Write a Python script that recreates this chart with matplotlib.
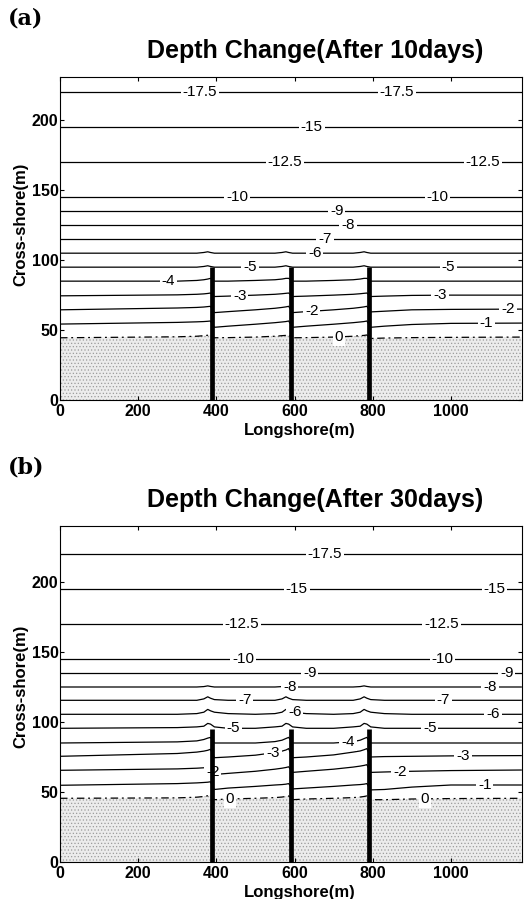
import numpy as np
import matplotlib
matplotlib.use('Agg')
import matplotlib.pyplot as plt

plt.rcParams['font.family'] = ['Liberation Sans', 'DejaVu Sans']
plt.rcParams['hatch.linewidth'] = 0.5

# contour levels (m) and longshore stations (m) where each contour was read
levels = [-17.5, -15, -12.5, -10, -9, -8, -7, -6, -5, -4, -3, -2, -1, 0]
xs = [0, 300, 350, 368, 378, 385, 395, 430, 500, 550, 568, 578, 585,
      595, 630, 700, 750, 768, 778, 785, 795, 830, 900, 1000, 1180]

# groins
groin_x = [390, 590, 790]
groin_len = 95

# cross-shore position (m) of every contour at the stations, after 10 days
ya = [
    [220] * 25,
    [195] * 25,
    [170] * 25,
    [145] * 25,
    [135] * 25,
    [125] * 25,
    [115] * 25,
    [105, 105, 105, 105.5, 106, 105.5, 105, 105, 105, 105, 105.5, 106, 105.5,
     105, 105, 105, 105, 105.5, 106, 105.5, 105, 105, 105, 105, 105],
    [95, 95, 95, 95.5, 96, 95.5, 95, 95, 95, 95, 95.5, 96, 95.5,
     95, 95, 95, 95, 95.5, 96, 95.5, 95, 95, 95, 95, 95],
    [85, 85, 85.5, 86, 86.5, 87, 85, 85, 85.5, 86, 86.5, 87, 87,
     85, 85, 85.5, 86, 86.5, 87, 87, 85, 85, 85, 85, 85],
    [74.5, 75.2, 75.6, 75.9, 76.2, 76.5, 74, 74.3, 75, 75.6, 76, 76.3, 76.5,
     74, 74.3, 75, 75.6, 76, 76.3, 76.5, 74, 74.3, 74.8, 75, 75],
    [64.5, 65.8, 66.2, 66.5, 66.8, 67, 62.5, 63.2, 64.5, 65.6, 66.2, 66.6, 67,
     62.5, 63.2, 64.5, 65.6, 66.2, 66.6, 67, 63, 63.5, 64.5, 64.8, 65],
    [54.3, 55.5, 55.9, 56.1, 56.3, 56.5, 52, 52.8, 54.2, 55.3, 55.8, 56.1, 56.5,
     52, 52.8, 54.2, 55.3, 55.8, 56.1, 56.5, 52, 52.8, 54, 54.8, 55],
    [44.5, 45.2, 45.6, 46, 46.3, 46.5, 44.5, 44.6, 45, 45.6, 46, 46.2, 46.5,
     44.5, 44.6, 45, 45.6, 46, 46.2, 46.5, 44, 44.3, 44.6, 44.8, 45],
]

# after 30 days
yb = [
    [220] * 25,
    [195] * 25,
    [170] * 25,
    [145] * 25,
    [135] * 25,
    [125, 125, 125, 125.3, 125.8, 125.4, 125, 125, 125, 125, 125.3, 125.8, 125.4,
     125, 125, 125, 125, 125.3, 125.8, 125.4, 125, 125, 125, 125, 125],
    [115.5, 115.5, 115.5, 116.5, 118, 117, 116, 115.5, 115.5, 115.5, 116.5, 118, 117,
     116, 115.5, 115.5, 115.5, 116.5, 118, 117, 116, 115.5, 115.5, 115.5, 115.5],
    [105.5, 105.5, 106, 107, 109, 108, 107, 106, 105.5, 106, 107, 109, 108,
     107, 106, 105.5, 106, 107, 109, 108, 107, 106, 105.5, 105.5, 105.5],
    [95.5, 96, 96.5, 97, 99, 98.5, 96.5, 95.5, 95.5, 96.5, 97, 99, 98.5,
     96.5, 95.5, 95.5, 96.5, 97, 99, 98.5, 96.5, 95.5, 95.5, 95.5, 95.5],
    [85, 85.8, 86.5, 87.5, 88.5, 89, 85, 85, 85, 86, 87, 88.2, 89,
     85, 85, 85, 86, 87, 88.2, 89, 85, 85, 85, 85, 85],
    [75.5, 77.5, 78.5, 79.2, 79.8, 80.5, 74.5, 75, 76.3, 78.2, 79.2, 80, 81,
     74.5, 75, 76.5, 78.5, 79.3, 80.2, 81, 75, 75.3, 75.5, 75.8, 76],
    [65.5, 66.5, 67, 67.3, 67.5, 67.8, 62.5, 63.3, 64.8, 66.3, 67, 67.5, 68,
     64, 64.8, 66.3, 67.8, 68.5, 69, 69.5, 64, 64.3, 64.8, 65.3, 65.7],
    [54.8, 56, 56.5, 56.8, 57, 57.3, 51.8, 52.8, 54, 55, 55.3, 55.6, 56,
     52.2, 52.8, 54, 55, 55.3, 55.6, 56, 51.5, 51.8, 53.5, 55, 55],
    [45.5, 45.8, 46.3, 46.8, 47.3, 47.8, 44.5, 45, 45.5, 46, 46.4, 46.8, 47.2,
     44.5, 45, 45.5, 46, 46.4, 46.8, 47.2, 44.5, 44.5, 45, 45.3, 45.5],
]

# contour label positions: longshore x (m) and level
lab_a_x = [358, 862, 644, 575, 1082, 453, 966, 708, 737, 678, 652, 486, 993,
           277, 460, 972, 644, 1146, 1091, 714]
lab_a_lev = [-17.5, -17.5, -15, -12.5, -12.5, -10, -10, -9, -8, -7, -6, -5, -5,
             -4, -3, -3, -2, -2, -1, 0]
lab_b_x = [678, 606, 1112, 465, 976, 468, 979, 639, 1143, 588, 1100, 473, 980,
           601, 1108, 443, 946, 737, 545, 1031, 391, 870, 1087, 435, 934]
lab_b_lev = [-17.5, -15, -15, -12.5, -12.5, -10, -10, -9, -9, -8, -8, -7, -7,
             -6, -6, -5, -5, -4, -3, -3, -2, -2, -1, 0, 0]

panels = [
    ('(a)', 'Depth Change(After 10days)', ya, lab_a_x, lab_a_lev),
    ('(b)', 'Depth Change(After 30days)', yb, lab_b_x, lab_b_lev),
]
# axes boxes in pixels: top, bottom, ylim top
boxes = [(77, 400, 231), (526, 862, 240)]

W, H = 526, 899
fig = plt.figure(figsize=(W / 100, H / 100), dpi=100)

for (tag, title, yy, lx, llev), (top, bot, ytop) in zip(panels, boxes):
    ax = fig.add_axes([60 / W, 1 - bot / H, 462 / W, (bot - top) / H])
    ax.set_xlim(0, 1182)
    ax.set_ylim(0, ytop)

    # dry beach, stippled
    ax.fill_between(xs, 0, yy[-1], facecolor='#ececec', edgecolor='#9c9c9c',
                    hatch='.....', linewidth=0, zorder=1)

    for lev, row in zip(levels, yy):
        if lev == 0:
            ax.plot(xs, row, color='k', lw=0.9, ls=(0, (6, 3, 1.5, 3)), zorder=2)
        else:
            ax.plot(xs, row, color='k', lw=0.9, zorder=2)

    for x, lev in zip(lx, llev):
        y = np.interp(x, xs, yy[levels.index(lev)])
        ax.text(x, y, f'{lev:g}', ha='center', va='center', fontsize=11,
                zorder=2.5,
                bbox=dict(boxstyle='square,pad=0.12', fc='white', ec='none'))

    ax.vlines(groin_x, 0, groin_len, color='k', lw=3.4, zorder=3)

    ax.set_xticks([0, 200, 400, 600, 800, 1000])
    ax.set_yticks([0, 50, 100, 150, 200])
    ax.tick_params(direction='in', top=True, right=True, length=3, width=0.8,
                   labelsize=11.5)
    ax.tick_params(axis='x', pad=3)
    ax.tick_params(axis='y', pad=1)
    for lbl in ax.get_xticklabels() + ax.get_yticklabels():
        lbl.set_fontweight('bold')
    for sp in ax.spines.values():
        sp.set_linewidth(0.8)

    fig.text(300 / W, 1 - (bot + 30) / H, 'Longshore(m)', ha='center',
             va='center', fontsize=12, fontweight='bold')
    fig.text(21 / W, 1 - (bot - 176) / H, 'Cross-shore(m)', ha='center',
             va='center', rotation=90, fontsize=12, fontweight='bold')
    fig.text(315 / W, 1 - (top - 26) / H, title, ha='center', va='center',
             fontsize=18, fontweight='bold')
    fig.text(8 / W, 1 - (top - 58) / H, tag, ha='left', va='center',
             fontsize=16, fontweight='bold', family='DejaVu Serif')

fig.savefig('out.png', dpi=100)
